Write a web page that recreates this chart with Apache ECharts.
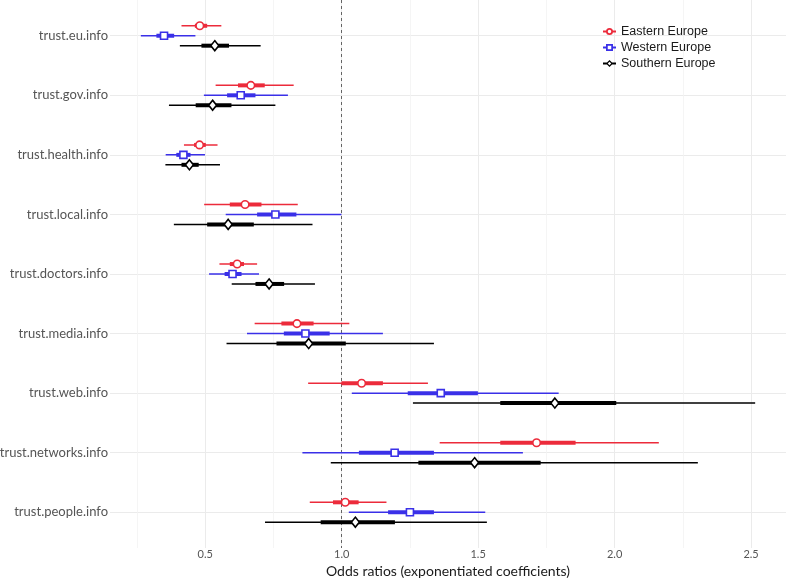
<!DOCTYPE html>
<html>
<head>
<meta charset="utf-8">
<script src="https://cdn.jsdelivr.net/npm/echarts@6/dist/echarts.min.js"></script>
<style>html,body{margin:0;padding:0;background:#fff;}#c{width:787px;height:579px;}</style>
</head>
<body>
<div id="c"></div>
<script>
const categories = ['trust.eu.info','trust.gov.info','trust.health.info','trust.local.info','trust.doctors.info','trust.media.info','trust.web.info','trust.networks.info','trust.people.info'];
const seriesNames = ['Eastern Europe','Western Europe','Southern Europe'];
const xTicks = [0.5, 1.0, 1.5, 2.0, 2.5];
const xMinorTicks = [0.25, 0.75, 1.25, 1.75, 2.25];

// Eastern Europe
const eastEst     = [0.480, 0.667, 0.479, 0.646, 0.617, 0.836, 1.073, 1.714, 1.013];
const eastInnerLo = [0.462, 0.620, 0.459, 0.590, 0.590, 0.779, 0.999, 1.581, 0.968];
const eastInnerHi = [0.507, 0.718, 0.502, 0.706, 0.642, 0.897, 1.151, 1.857, 1.062];
const eastOuterLo = [0.413, 0.538, 0.422, 0.496, 0.552, 0.681, 0.877, 1.359, 0.883];
const eastOuterHi = [0.559, 0.824, 0.545, 0.839, 0.690, 1.028, 1.316, 2.162, 1.164];
// Western Europe
const westEst     = [0.349, 0.630, 0.420, 0.757, 0.600, 0.867, 1.363, 1.194, 1.250];
const westInnerLo = [0.321, 0.580, 0.394, 0.690, 0.571, 0.788, 1.242, 1.063, 1.170];
const westInnerHi = [0.386, 0.684, 0.446, 0.834, 0.633, 0.956, 1.499, 1.338, 1.338];
const westOuterLo = [0.264, 0.495, 0.355, 0.575, 0.514, 0.653, 1.037, 0.856, 1.026];
const westOuterHi = [0.464, 0.803, 0.499, 0.999, 0.697, 1.151, 1.795, 1.664, 1.526];
// Southern Europe
const southEst     = [0.535, 0.527, 0.442, 0.584, 0.734, 0.879, 1.781, 1.487, 1.050];
const southInnerLo = [0.486, 0.465, 0.413, 0.507, 0.684, 0.761, 1.581, 1.281, 0.923];
const southInnerHi = [0.587, 0.596, 0.476, 0.678, 0.789, 1.015, 2.006, 1.729, 1.195];
const southOuterLo = [0.407, 0.367, 0.354, 0.385, 0.597, 0.578, 1.261, 0.960, 0.719];
const southOuterHi = [0.703, 0.757, 0.554, 0.893, 0.902, 1.338, 2.515, 2.305, 1.532];

const colors = ['#ec2b3b', '#3a30e8', '#000000'];
const dodge = [-0.167, 0, 0.167];
const groups = [
  {est: eastEst, ilo: eastInnerLo, ihi: eastInnerHi, olo: eastOuterLo, ohi: eastOuterHi, symbol: 'circle', size: 7.5},
  {est: westEst, ilo: westInnerLo, ihi: westInnerHi, olo: westOuterLo, ohi: westOuterHi, symbol: 'rect', size: 7},
  {est: southEst, ilo: southInnerLo, ihi: southInnerHi, olo: southOuterLo, ohi: southOuterHi, symbol: 'diamond', size: [8, 10]}
];

function rangeSeries(name, lo, hi, offset, color, width, z) {
  return {
    type: 'custom', name: name, z: z,
    data: lo.map((l, i) => [l, hi[i], i]),
    encode: {x: [0, 1], y: 2},
    renderItem: function (params, api) {
      const y = api.value(2) + offset;
      const p1 = api.coord([api.value(0), y]);
      const p2 = api.coord([api.value(1), y]);
      return {type: 'line', shape: {x1: p1[0], y1: p1[1], x2: p2[0], y2: p2[1]},
              style: {stroke: color, lineWidth: width, lineCap: 'butt'}};
    }
  };
}

const series = [];
groups.forEach((g, k) => {
  const name = seriesNames[k];
  series.push(rangeSeries(name, g.olo, g.ohi, dodge[k], colors[k], 1.5, 3));
  series.push(rangeSeries(name, g.ilo, g.ihi, dodge[k], colors[k], 4, 4));
  series.push({
    type: 'scatter', name: name, z: 5,
    symbol: g.symbol, symbolSize: g.size,
    itemStyle: {color: '#ffffff', borderColor: colors[k], borderWidth: 1.6, opacity: 1},
    data: g.est.map((v, i) => [v, i + dodge[k]])
  });
});
series[0].markLine = {
  silent: true, symbol: 'none', z: 1,
  label: {show: false},
  lineStyle: {type: [3, 3], color: '#555555', width: 0.9},
  emphasis: {disabled: true},
  data: [{xAxis: 1}]
};

const icons = [
  'path://M0 5H8V9H0Z M18 5H26V9H18Z M6 7A7 7 0 1 1 20 7A7 7 0 1 1 6 7Z M9.5 7A3.5 3.5 0 1 0 16.5 7A3.5 3.5 0 1 0 9.5 7Z',
  'path://M0 5H8V9H0Z M18 5H26V9H18Z M6 0H20V14H6Z M9.5 3.5V10.5H16.5V3.5Z',
  'path://M0 5H8V9H0Z M18 5H26V9H18Z M13 0L20 7L13 14L6 7Z M13 3.5L9.5 7L13 10.5L16.5 7Z'
];

const chart = echarts.init(document.getElementById('c'), null, {renderer: 'canvas'});
chart.setOption({
  animation: false,
  backgroundColor: '#ffffff',
  grid: {left: 110, right: 1, top: 0, bottom: 31, containLabel: false, outerBoundsMode: 'none'},
  legend: {
    orient: 'vertical', left: 598, top: 20, padding: 5,
    itemWidth: 13, itemHeight: 7, itemGap: 3,
    textStyle: {fontFamily: 'Liberation Sans', fontSize: 12.5, color: '#1a1a1a'},
    data: seriesNames.map((n, k) => ({name: n, icon: icons[k], itemStyle: {color: colors[k], borderWidth: 0}}))
  },
  xAxis: [{
    type: 'value', min: 0.151, max: 2.628,
    axisLine: {show: false},
    axisTick: {show: false, customValues: xTicks},
    axisLabel: {customValues: xTicks, formatter: v => v.toFixed(1), color: '#555555', fontFamily: 'Lato', fontSize: 11, margin: 1},
    splitLine: {show: true, lineStyle: {color: '#ebebeb', width: 1}},
    name: 'Odds ratios (exponentiated coefficients)', nameLocation: 'middle', nameGap: 15,
    nameTextStyle: {fontFamily: 'Lato', fontSize: 14, color: '#1a1a1a'}
  }, {
    type: 'value', min: 0.151, max: 2.628, position: 'bottom',
    axisLine: {show: false},
    axisTick: {show: false, customValues: xMinorTicks},
    axisLabel: {show: false},
    splitLine: {show: true, lineStyle: {color: '#f2f2f2', width: 0.8}}
  }],
  yAxis: {
    type: 'value', min: -0.6, max: 8.6, inverse: true,
    axisLine: {show: false},
    axisTick: {show: false, customValues: categories.map((c, i) => i)},
    axisLabel: {customValues: categories.map((c, i) => i), formatter: v => categories[Math.round(v)],
                color: '#555555', fontFamily: 'Lato', fontSize: 13, margin: 2},
    splitLine: {show: true, lineStyle: {color: '#ebebeb', width: 1}}
  },
  series: series
});
</script>
</body>
</html>
